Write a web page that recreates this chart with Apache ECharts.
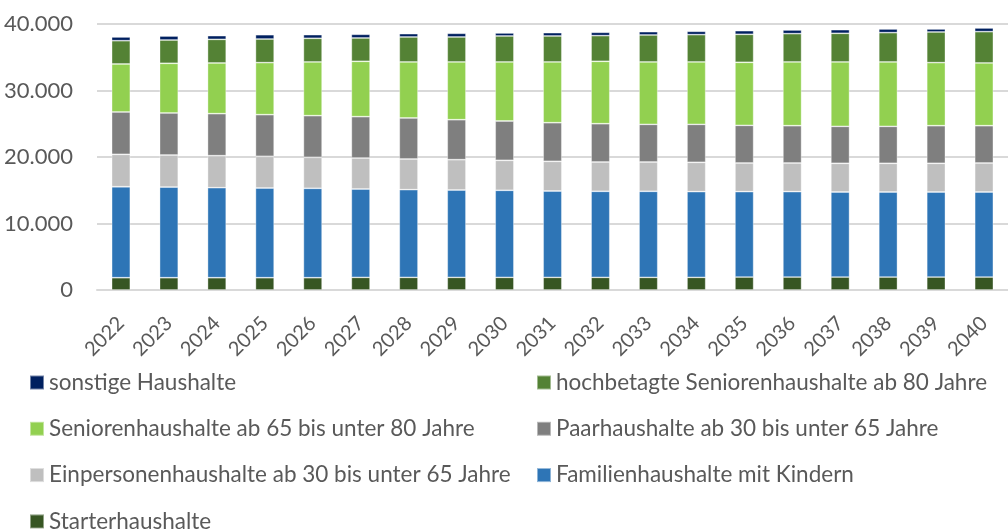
<!DOCTYPE html>
<html>
<head>
<meta charset="utf-8">
<script src="https://cdn.jsdelivr.net/npm/echarts@6/dist/echarts.min.js"></script>
<style>
  html, body { margin: 0; padding: 0; background: #fff; }
  #chart { width: 1008px; height: 532px; }
</style>
</head>
<body>
<div id="chart"></div>
<script>
var years = ['2022', '2023', '2024', '2025', '2026', '2027', '2028', '2029', '2030', '2031',
  '2032', '2033', '2034', '2035', '2036', '2037', '2038', '2039', '2040'];

var starter = [1850, 1850, 1850, 1850, 1850, 1900, 1900, 1900, 1900, 1900,
  1900, 1900, 1900, 1950, 1950, 1950, 1950, 1950, 1950];
var familie = [13680, 13630, 13530, 13490, 13440, 13290, 13190, 13140, 13090, 12990,
  12940, 12940, 12890, 12840, 12840, 12790, 12790, 12790, 12790];
var einpersonen = [4870, 4820, 4820, 4760, 4660, 4660, 4610, 4560, 4510, 4460,
  4410, 4410, 4410, 4310, 4310, 4310, 4310, 4310, 4360];
var paar = [6370, 6320, 6320, 6270, 6270, 6220, 6170, 6010, 5910, 5810,
  5760, 5660, 5710, 5660, 5610, 5560, 5560, 5660, 5610];
var senioren = [7220, 7470, 7620, 7820, 8070, 8320, 8420, 8680, 8880, 9130,
  9380, 9380, 9380, 9480, 9580, 9680, 9680, 9480, 9430];
var hochbetagt = [3500, 3500, 3550, 3550, 3560, 3510, 3760, 3760, 3910, 3910,
  3860, 4060, 4110, 4210, 4260, 4310, 4410, 4610, 4710];
var sonstige = [560, 600, 560, 650, 550, 550, 500, 550, 450, 500,
  500, 500, 500, 550, 550, 550, 550, 450, 550];

var textColor = '#595959';
var fontFamily = 'Lato, "Liberation Sans", sans-serif';

var chart = echarts.init(document.getElementById('chart'));

function bar(name, data, color) {
  return {
    name: name,
    type: 'bar',
    stack: 'total',
    barWidth: '39%',
    data: data,
    itemStyle: { color: color, borderColor: 'rgba(255,255,255,0.45)', borderWidth: 0.8 }
  };
}

function fmt(v) {
  return String(v).replace(/\B(?=(\d{3})+(?!\d))/g, '.');
}

// legend in two columns, like the original
function legendCol(left, names) {
  return {
    orient: 'vertical', left: left, top: 366, height: 200, itemGap: 23.3,
    itemWidth: 14, itemHeight: 14, itemTextGap: 6, icon: 'rect',
    textStyle: { color: textColor, fontSize: 22.5, fontFamily: fontFamily, lineHeight: 20 },
    data: names
  };
}

chart.setOption({
  animation: false,
  grid: { left: 97, right: -12, top: 24, bottom: 242, containLabel: false },
  legend: [
    legendCol(24, ['sonstige Haushalte', 'Seniorenhaushalte ab 65 bis unter 80 Jahre',
      'Einpersonenhaushalte ab 30 bis unter 65 Jahre', 'Starterhaushalte']),
    legendCol(531, ['hochbetagte Seniorenhaushalte ab 80 Jahre',
      'Paarhaushalte ab 30 bis unter 65 Jahre', 'Familienhaushalte mit Kindern'])
  ],
  xAxis: {
    type: 'category',
    data: years,
    axisLine: { lineStyle: { color: '#D9D9D9', width: 2 } },
    axisTick: { show: false },
    axisLabel: { rotate: 45, margin: 30, color: textColor, fontSize: 20, fontFamily: fontFamily }
  },
  yAxis: {
    type: 'value',
    min: 0,
    max: 40000,
    interval: 10000,
    axisLine: { show: false },
    axisTick: { show: false },
    splitLine: { lineStyle: { color: '#D9D9D9', width: 2 } },
    axisLabel: { margin: 24, color: textColor, fontSize: 22, fontFamily: fontFamily, formatter: fmt }
  },
  series: [
    bar('Starterhaushalte', starter, '#375623'),
    bar('Familienhaushalte mit Kindern', familie, '#2E75B6'),
    bar('Einpersonenhaushalte ab 30 bis unter 65 Jahre', einpersonen, '#BFBFBF'),
    bar('Paarhaushalte ab 30 bis unter 65 Jahre', paar, '#7F7F7F'),
    bar('Seniorenhaushalte ab 65 bis unter 80 Jahre', senioren, '#92D050'),
    bar('hochbetagte Seniorenhaushalte ab 80 Jahre', hochbetagt, '#548235'),
    bar('sonstige Haushalte', sonstige, '#002060')
  ]
});
</script>
</body>
</html>
